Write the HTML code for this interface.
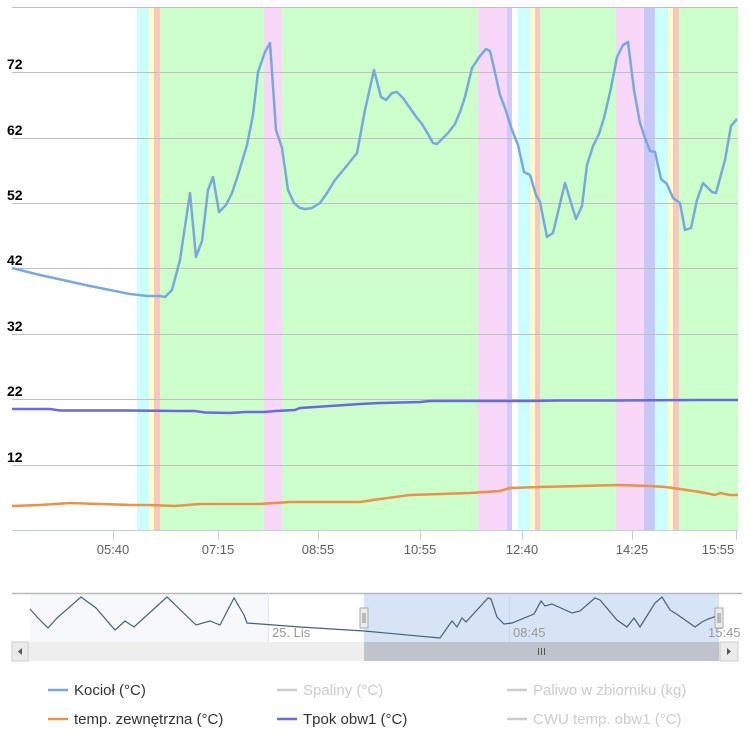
<!DOCTYPE html>
<html><head><meta charset="utf-8"><style>
html,body{margin:0;padding:0;background:#fff;}
svg{display:block;font-family:"Liberation Sans","DejaVu Sans",sans-serif;}
</style></head><body>
<svg width="750" height="750" viewBox="0 0 750 750" xmlns="http://www.w3.org/2000/svg">
<rect width="750" height="750" fill="#fff"/>
<!-- bands -->
<g>
<rect x="137" y="7" width="12" height="523" fill="#ccffff"/>
<rect x="149" y="7" width="5" height="523" fill="#ffffcc"/>
<rect x="154" y="7" width="6" height="523" fill="#f8c8c0"/>
<rect x="160" y="7" width="104" height="523" fill="#ccffcc"/>
<rect x="264" y="7" width="18" height="523" fill="#f8d8f8"/>
<rect x="282" y="7" width="196" height="523" fill="#ccffcc"/>
<rect x="478" y="7" width="29" height="523" fill="#f8d8f8"/>
<rect x="507" y="7" width="5" height="523" fill="#d4c8f4"/>
<rect x="518" y="7" width="12" height="523" fill="#ccffff"/>
<rect x="530" y="7" width="5" height="523" fill="#ffffcc"/>
<rect x="535" y="7" width="5" height="523" fill="#f8c8c0"/>
<rect x="540" y="7" width="76" height="523" fill="#ccffcc"/>
<rect x="616" y="7" width="28" height="523" fill="#f8d8f8"/>
<rect x="644" y="7" width="11" height="523" fill="#c8c8f8"/>
<rect x="655" y="7" width="13" height="523" fill="#ccffff"/>
<rect x="668" y="7" width="5" height="523" fill="#ffffcc"/>
<rect x="673" y="7" width="6" height="523" fill="#f8c8c0"/>
<rect x="679" y="7" width="59" height="523" fill="#ccffcc"/>
</g>
<!-- grid -->
<g stroke="#c0c0c0" stroke-width="1">
<line x1="12" y1="7.5" x2="738" y2="7.5"/>
<line x1="12" y1="72.5" x2="738" y2="72.5"/>
<line x1="12" y1="138.5" x2="738" y2="138.5"/>
<line x1="12" y1="203.5" x2="738" y2="203.5"/>
<line x1="12" y1="268.5" x2="738" y2="268.5"/>
<line x1="12" y1="334.5" x2="738" y2="334.5"/>
<line x1="12" y1="399.5" x2="738" y2="399.5"/>
<line x1="12" y1="465.5" x2="738" y2="465.5"/>
</g>
<line x1="12" y1="530.5" x2="738" y2="530.5" stroke="#c0d0e0"/>
<g stroke="#c0d0e0">
<line x1="113.5" y1="530" x2="113.5" y2="540"/>
<line x1="218.5" y1="530" x2="218.5" y2="540"/>
<line x1="318.5" y1="530" x2="318.5" y2="540"/>
<line x1="420.5" y1="530" x2="420.5" y2="540"/>
<line x1="522.5" y1="530" x2="522.5" y2="540"/>
<line x1="632.5" y1="530" x2="632.5" y2="540"/>
<line x1="736.5" y1="530" x2="736.5" y2="540"/>
</g>
<g font-size="14" fill="#000" font-weight="bold">
<text x="7" y="69">72</text><text x="7" y="135">62</text><text x="7" y="200">52</text>
<text x="7" y="265">42</text><text x="7" y="331">32</text><text x="7" y="396">22</text><text x="7" y="462">12</text>
</g>
<g font-size="13" fill="#606060" text-anchor="middle">
<text x="113" y="554">05:40</text><text x="218" y="554">07:15</text><text x="318" y="554">08:55</text>
<text x="420" y="554">10:55</text><text x="522" y="554">12:40</text><text x="632" y="554">14:25</text><text x="718" y="554">15:55</text>
</g>
<!-- series -->
<polyline fill="none" stroke="#e8924a" stroke-width="2.5" points="12,506 40,505 70,503 100,504 130,505 150,505 175,506 200,504 230,504 260,504 290,502 330,502 360,502 380,499 410,495 440,494 470,493 500,491 510,488 540,487 580,486 620,485 650,486 665,487 680,489 700,492 715,495 720,493 730,495 738,495"/>
<polyline fill="none" stroke="#6a6ad8" stroke-width="2.5" points="12,409 50,409 60,410.5 130,410.5 180,411 195,411 205,412.5 230,413 245,412 265,412 275,411 295,410 300,408 330,406 360,404 380,403 420,402 430,401 500,401 530,401 560,400.5 620,400.5 700,400 738,400"/>
<polyline fill="none" stroke="#79a9dc" stroke-width="2.5" stroke-linejoin="round" points="12,268 40,275 90,286 130,294 148,296 160,296 165,297 172,290 180,260 190,193 196,257 202,241 208,190 213,177 219,212 226,205 232,193 238,175 247,145 253,115 258,72 265,52 270,43 276,130 282,148 288,190 294,203 300,208 305,209 312,208 320,203 327,193 335,180 345,168 357,153 365,110 374,70 381,97 386,100 392,93 397,92 403,98 410,108 417,118 422,124 428,134 433,143 437,144 443,138 448,133 455,124 460,112 465,97 472,68 480,56 486,49 490,51 494,68 500,95 505,108 512,130 518,145 524,172 530,175 536,195 540,202 547,237 553,233 565,183 576,219 582,206 587,165 593,146 599,134 604,118 611,88 617,57 623,45 628,42 634,90 640,123 645,138 650,151 655,152 661,179 667,184 673,198 680,203 685,230 691,228 697,200 703,183 712,192 716,193 725,160 731,126 737,119"/>
<!-- navigator -->
<rect x="30" y="593" width="238" height="49" fill="#f6f8fc"/>
<rect x="364" y="593" width="355" height="49" fill="#d6e4f6"/>
<line x1="12" y1="593.5" x2="742" y2="593.5" stroke="#b8b8b8" stroke-width="1.5"/>
<line x1="268.5" y1="593" x2="268.5" y2="642" stroke="#e6e6e6"/>
<line x1="509.5" y1="593" x2="509.5" y2="642" stroke="#c8d8ee"/>
<g font-size="13" fill="#999">
<text x="272" y="637">25. Lis</text><text x="513" y="637">08:45</text><text x="708" y="637">15:45</text>
</g>
<polyline fill="none" stroke="#4a6078" stroke-width="1.2" points="30,609 38,618 48,628 57,618 81,597 96,608 115,630 125,621 134,627 167,597 196,625 210,621 220,625 234,598 244,615 247,623 300,627 364,631 440,638 452,621 457,627 462,618 466,622 488,598 491,599 497,617 504,624 512,623 534,614 541,601 545,606 552,604 572,613 580,611 595,598 600,600 617,620 627,627 634,618 640,627 655,603 662,597 670,610 678,615 695,627 702,622 708,619 714,617 718,613"/>
<rect x="360" y="608" width="8" height="20" fill="#ebebeb" stroke="#aaa"/>
<line x1="363" y1="613" x2="363" y2="623" stroke="#888"/><line x1="365" y1="613" x2="365" y2="623" stroke="#888"/>
<rect x="715" y="608" width="8" height="20" fill="#ebebeb" stroke="#aaa"/>
<line x1="718" y1="613" x2="718" y2="623" stroke="#888"/><line x1="720" y1="613" x2="720" y2="623" stroke="#888"/>
<!-- scrollbar -->
<rect x="12" y="642" width="726" height="19" fill="#eeeeee"/>
<rect x="364" y="642" width="355" height="19" fill="#bfc4cc"/>
<rect x="12" y="642" width="16" height="19" fill="#ebebeb" stroke="#ccc"/>
<rect x="720" y="642" width="18" height="19" fill="#ebebeb" stroke="#ccc"/>
<path d="M22 648 L18 651.5 L22 655Z" fill="#555"/>
<path d="M727 648 L731 651.5 L727 655Z" fill="#555"/>
<g stroke="#555"><line x1="538.5" y1="648" x2="538.5" y2="655"/><line x1="541.5" y1="648" x2="541.5" y2="655"/><line x1="544.5" y1="648" x2="544.5" y2="655"/></g>
<!-- legend -->
<g stroke-width="2.5">
<line x1="48" y1="690" x2="68" y2="690" stroke="#79a9dc"/>
<line x1="277" y1="690" x2="297" y2="690" stroke="#ccc"/>
<line x1="507" y1="690" x2="527" y2="690" stroke="#ccc"/>
<line x1="48" y1="719" x2="68" y2="719" stroke="#e8924a"/>
<line x1="277" y1="719" x2="297" y2="719" stroke="#6a6ad8"/>
<line x1="507" y1="719" x2="527" y2="719" stroke="#ccc"/>
</g>
<g font-size="15">
<text x="74" y="695" fill="#333">Kocioł (°C)</text>
<text x="303" y="695" fill="#ccc">Spaliny (°C)</text>
<text x="533" y="695" fill="#ccc">Paliwo w zbiorniku (kg)</text>
<text x="74" y="724" fill="#333">temp. zewnętrzna (°C)</text>
<text x="303" y="724" fill="#333">Tpok obw1 (°C)</text>
<text x="533" y="724" fill="#ccc">CWU temp. obw1 (°C)</text>
</g>
</svg>
</body></html>
